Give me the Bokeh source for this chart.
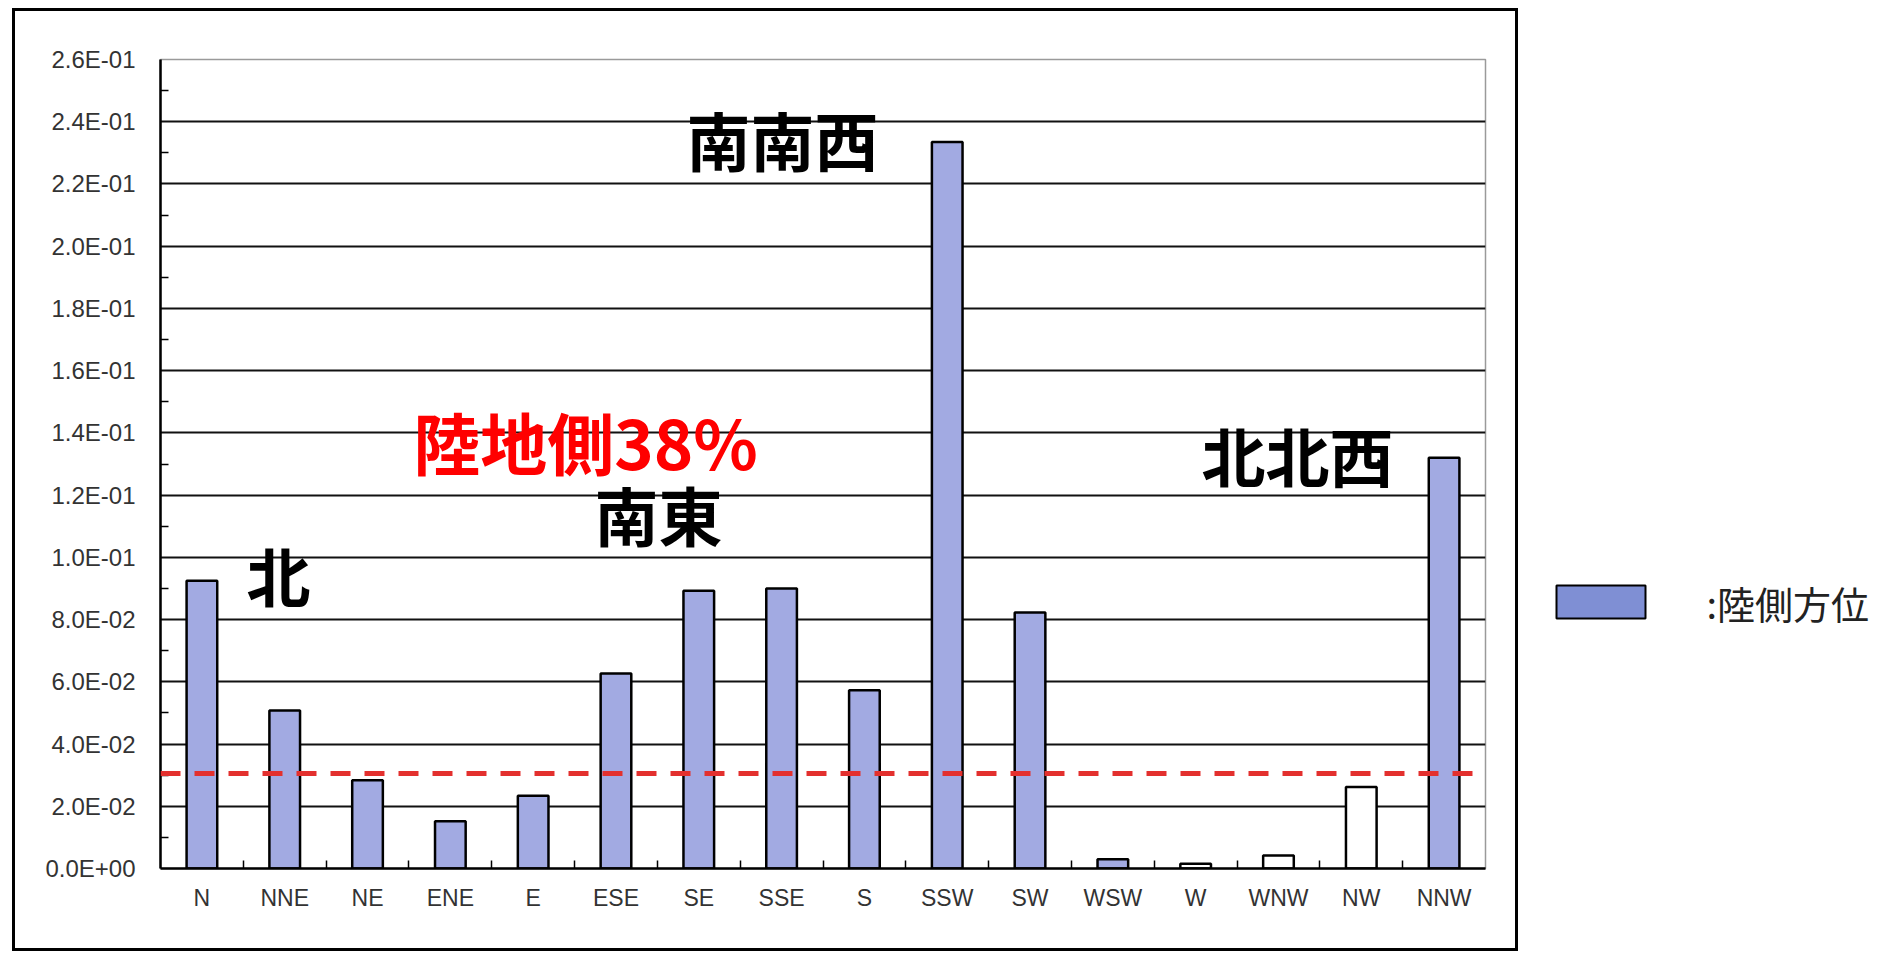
from bokeh.plotting import figure
from bokeh.layouts import row
from bokeh.models import (FixedTicker, CustomJSTickFormatter, Span, Label,
                          Range1d, ColumnDataSource)
from bokeh.core.properties import value
from bokeh.embed import file_html
from bokeh.resources import INLINE

# ---------------- data ----------------
DIRECTIONS = ["N", "NNE", "NE", "ENE", "E", "ESE", "SE", "SSE",
              "S", "SSW", "SW", "WSW", "W", "WNW", "NW", "NNW"]
PROBABILITY = [0.0925, 0.0508, 0.0284, 0.0152, 0.0234, 0.0627, 0.0893, 0.0900,
               0.0573, 0.2335, 0.0823, 0.0030, 0.0015, 0.0042, 0.0262, 0.1320]
LAND_SIDE = [True, True, True, True, True, True, True, True,
             True, True, True, True, False, False, False, True]
THRESHOLD = 0.0305
Y_TICKS = [0.0, 0.02, 0.04, 0.06, 0.08, 0.10, 0.12, 0.14, 0.16, 0.18, 0.20,
           0.22, 0.24, 0.26]
Y_TICK_LABELS = ["0.0E+00", "2.0E-02", "4.0E-02", "6.0E-02", "8.0E-02",
                 "1.0E-01", "1.2E-01", "1.4E-01", "1.6E-01", "1.8E-01",
                 "2.0E-01", "2.2E-01", "2.4E-01", "2.6E-01"]
Y_MINOR_TICKS = [0.01, 0.03, 0.05, 0.07, 0.09, 0.11, 0.13, 0.15, 0.17, 0.19,
                 0.21, 0.23, 0.25]
LEGEND_TEXT = [":陸側方位"]
NOTES = ["南南西", "北", "北北西", "南東"]
RED_NOTE = "陸地側38%"

# ---------------- layout (page pixels) ----------------
BOX_L, BOX_T, BOX_R, BOX_B = 12, 8, 1518, 951     # outer chart border
BORDER = 3
FL, FR, FT, FB = 160, 1485, 56, 868               # plot frame on page
N = len(DIRECTIONS)
Y_MAX = 0.26

CW = BOX_R - BOX_L
CH = BOX_B - BOX_T
OX, OY = BOX_L + BORDER, BOX_T + BORDER           # canvas origin on page


def dx(px):
    return (px - FL) / (FR - FL) * N


def dy(py):
    return (FB - py) / (FB - FT) * Y_MAX


centers = [i + 0.5 for i in range(N)]
boundaries = [float(i) for i in range(1, N)]

BLUE = "#a2aae2"
fills = [BLUE if s else "white" for s in LAND_SIDE]
src = ColumnDataSource(dict(x=centers, top=PROBABILITY, fill=fills, name=DIRECTIONS))

p = figure(width=CW, height=CH, output_backend="svg", toolbar_location=None,
           x_range=Range1d(0, N), y_range=Range1d(0, Y_MAX),
           min_border_left=FL - OX, min_border_right=CW - (FR - OX),
           min_border_top=FT - OY, min_border_bottom=CH - (FB - OY),
           margin=(BOX_T, 0, 0, BOX_L))
p.styles = {"border": f"{BORDER}px solid black"}
p.background_fill_color = "white"
p.border_fill_color = "white"
p.outline_line_color = "#9a9a9a"
p.outline_line_width = 1.5

p.vbar(x="x", top="top", width=0.37, bottom=0, source=src,
       fill_color="fill", line_color="black", line_width=2.5)

# threshold line
p.add_layout(Span(location=THRESHOLD, dimension="width", line_color="#e3302e",
                  line_width=5, line_dash="20 14"))

# axes
xa = p.xaxis[0]
xa.ticker = FixedTicker(ticks=centers, minor_ticks=boundaries)
xa.formatter = CustomJSTickFormatter(args=dict(vals=centers, labels=DIRECTIONS), code="""
const i = vals.findIndex(v => Math.abs(v - tick) < 1e-6); return i >= 0 ? labels[i] : "";
""")
xa.major_tick_line_color = None
xa.minor_tick_in = 8
xa.minor_tick_out = 0
xa.minor_tick_line_color = "black"
xa.minor_tick_line_width = 1.5
xa.axis_line_color = "black"
xa.axis_line_width = 2.5
xa.major_label_text_font = "Liberation Sans"
xa.major_label_text_font_size = "23px"
xa.major_label_text_color = "#333333"
xa.major_label_standoff = 10

ya = p.yaxis[0]
ya.ticker = FixedTicker(ticks=Y_TICKS, minor_ticks=Y_MINOR_TICKS)
ya.formatter = CustomJSTickFormatter(args=dict(vals=Y_TICKS, labels=Y_TICK_LABELS), code="""
const i = vals.findIndex(v => Math.abs(v - tick) < 1e-9); return i >= 0 ? labels[i] : "";
""")
ya.major_tick_in = 0
ya.major_tick_out = 0
ya.minor_tick_in = 8
ya.minor_tick_out = 0
ya.minor_tick_line_color = "black"
ya.minor_tick_line_width = 1.5
ya.axis_line_color = "black"
ya.axis_line_width = 2.5
ya.major_label_text_font = "Liberation Sans"
ya.major_label_text_font_size = "24px"
ya.major_label_text_color = "#333333"
ya.major_label_standoff = 25

p.xgrid.grid_line_color = None
p.ygrid.ticker = FixedTicker(ticks=Y_TICKS[1:-1])
p.ygrid.grid_line_color = "#111111"
p.ygrid.grid_line_width = 1.8

# annotations (bold black / red notes), centres given in page pixels
note_pos = [(782, 135), (278, 572), (1297, 452), (658, 511)]
for txt, (px, py) in zip(NOTES, note_pos):
    p.add_layout(Label(x=dx(px), y=dy(py), text=txt,
                       text_font="Noto Sans CJK JP", text_font_style="bold",
                       text_font_size="64px", text_color="black",
                       text_align="center", text_baseline="middle"))
p.add_layout(Label(x=dx(585), y=dy(438), text=RED_NOTE,
                   text_font="Noto Sans CJK JP", text_font_style="bold",
                   text_font_size="67px", text_color="#ff0000",
                   text_align="center", text_baseline="middle"))

# ---------------- legend panel ----------------
LX0 = BOX_R + 2
LW = 1884 - LX0
LH = BOX_B - BOX_T
lg = figure(width=LW, height=LH, output_backend="svg", toolbar_location=None,
            x_range=Range1d(LX0, LX0 + LW), y_range=Range1d(FB, FT),
            x_axis_type=None, y_axis_type=None, title=None,
            min_border_left=0, min_border_right=0,
            min_border_top=FT - BOX_T, min_border_bottom=LH - (FB - BOX_T),
            margin=(BOX_T, 0, 0, 0))
lg.outline_line_color = None
lg.xgrid.visible = False
lg.ygrid.visible = False
lg.quad(left=[1558], right=[1647], top=[587], bottom=[620],
        fill_color="#7f8fd4", line_color="black", line_width=2)
lg.text(x=[1708], y=[604], text=LEGEND_TEXT, text_baseline="middle",
        text_align="left", text_font=value("Noto Sans CJK JP"),
        text_font_size="38px", text_color="#222222")

layout = row(p, lg, spacing=0)
open("out.html", "w").write(file_html(layout, INLINE))
